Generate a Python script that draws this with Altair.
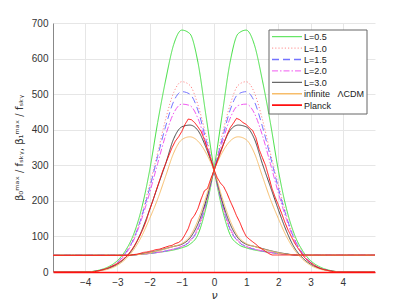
import altair as alt
import pandas as pd

# shared nu grid for theory curves
nu = [-5, -4.5, -4, -3.75, -3.5, -3.25, -3, -2.75, -2.5, -2.25, -2, -1.75, -1.5, -1.25, -1, -0.75, -0.5, -0.25,
      0, 0.25, 0.5, 0.75, 1, 1.25, 1.5, 1.75, 2, 2.25, 2.5, 2.75, 3, 3.25, 3.5, 3.75, 4, 4.5, 5]

# beta_1 (right lobe) per model
b1_L05 = [47, 47, 47, 47, 47, 47, 47, 47, 48, 50, 52, 55, 58, 62, 68, 78, 105, 180,
          290, 440, 590, 670, 680, 640, 540, 420, 285, 178, 105, 60, 32, 16, 7, 2, 0, 0, 0]
b1_L10 = [47, 47, 47, 47, 47, 47, 47, 47, 48, 50, 52, 55, 59, 64, 71, 85, 118, 190,
          287, 385, 470, 525, 535, 505, 430, 335, 245, 160, 95, 55, 28, 13, 5, 1.5, 0, 0, 0]
b1_L15 = [47, 47, 47, 47, 47, 47, 47, 47, 48, 50, 52, 55, 59, 64, 71, 86, 120, 192,
          286, 372, 455, 500, 507, 480, 410, 325, 235, 155, 92, 53, 27, 12, 5, 1.5, 0, 0, 0]
b1_L20 = [47, 47, 47, 47, 47, 47, 47, 47, 48, 50, 52, 55, 59, 65, 72, 88, 124, 195,
          286, 362, 432, 468, 472, 447, 385, 305, 222, 148, 88, 50, 26, 12, 5, 1.5, 0, 0, 0]
b1_L30 = [47, 47, 47, 47, 47, 47, 47, 47, 48, 51, 55, 60, 66, 72, 78, 95, 135, 200,
          285, 350, 398, 413, 408, 375, 305, 240, 175, 115, 68, 40, 22, 11, 5, 1.5, 0, 0, 0]
b1_inf = [47, 47, 47, 47, 47, 47, 47, 47, 48, 50, 54, 59, 65, 72, 80, 100, 145, 210,
          285, 335, 368, 380, 372, 335, 270, 205, 150, 100, 62, 36, 19, 9, 4, 1, 0, 0, 0]

# beta_0 (left lobe) per model
b0_L05 = [0, 0, 0, 2, 7, 16, 32, 60, 105, 178, 285, 420, 540, 640, 680, 670, 590, 440,
          290, 180, 105, 78, 68, 62, 58, 55, 52, 50, 48, 47, 47, 47, 47, 47, 47, 47, 47]
b0_L10 = [0, 0, 0, 1.5, 5, 13, 28, 55, 95, 160, 245, 335, 430, 505, 535, 525, 470, 385,
          287, 190, 118, 85, 71, 64, 59, 55, 52, 50, 48, 47, 47, 47, 47, 47, 47, 47, 47]
b0_L15 = [0, 0, 0, 1.5, 5, 12, 27, 53, 92, 155, 235, 325, 410, 480, 507, 500, 455, 372,
          286, 192, 120, 86, 71, 64, 59, 55, 52, 50, 48, 47, 47, 47, 47, 47, 47, 47, 47]
b0_L20 = [0, 0, 0, 1.5, 5, 12, 26, 50, 88, 148, 222, 305, 385, 447, 472, 468, 432, 362,
          286, 195, 124, 88, 72, 65, 59, 55, 52, 50, 48, 47, 47, 47, 47, 47, 47, 47, 47]
b0_L30 = [0, 0, 0, 1.5, 5, 11, 22, 40, 68, 115, 175, 240, 305, 375, 408, 413, 398, 350,
          285, 200, 135, 95, 78, 72, 66, 60, 55, 51, 48, 47, 47, 47, 47, 47, 47, 47, 47]
b0_inf = [0, 0, 0, 1, 4, 9, 19, 36, 62, 100, 150, 205, 270, 335, 372, 380, 368, 335,
          285, 210, 145, 100, 80, 72, 65, 59, 54, 50, 48, 47, 47, 47, 47, 47, 47, 47, 47]

# Planck (noisy measurement)
nu_pl_b1 = [-5, -2.6, -2.5, -2.4, -2.3, -2.2, -2.1, -2.0, -1.9, -1.8, -1.7, -1.6, -1.5, -1.4, -1.3, -1.2, -1.1,
            -1.0, -0.9, -0.8, -0.7, -0.6, -0.5, -0.4, -0.3, -0.2, -0.1, 0.0, 0.1, 0.2, 0.3, 0.4, 0.5, 0.6,
            0.7, 0.8, 0.9, 1.0, 1.1, 1.2, 1.3, 1.4, 1.5, 1.6, 1.7, 1.8, 1.9, 2.0, 2.1, 2.2, 2.3, 2.4, 2.5,
            2.6, 2.7, 2.8, 2.9, 3.0, 3.1, 3.2, 3.3, 3.4, 3.5, 3.6, 3.7, 3.8, 5]
pl_b1 = [47, 47, 49, 50, 52, 55, 56, 58, 60, 63, 64, 67, 70, 73, 75, 80, 83,
         90, 105, 122, 148, 160, 178, 205, 228, 235, 262, 285, 310, 335, 360, 385, 405, 418,
         432, 428, 420, 415, 405, 398, 378, 345, 322, 300, 268, 235, 210, 188, 165, 140, 118, 100, 82,
         68, 55, 42, 33, 26, 20, 14, 10, 7, 5, 3, 1, 0, 0]
nu_pl_b0 = [-5, -3.8, -3.7, -3.6, -3.5, -3.4, -3.3, -3.2, -3.1, -3.0, -2.9, -2.8, -2.7, -2.6, -2.5, -2.4, -2.3,
            -2.2, -2.1, -2.0, -1.9, -1.8, -1.7, -1.6, -1.5, -1.4, -1.3, -1.2, -1.1, -1.0, -0.9, -0.8, -0.7,
            -0.6, -0.5, -0.4, -0.3, -0.2, -0.1, 0.0, 0.1, 0.2, 0.3, 0.4, 0.5, 0.6, 0.7, 0.8, 0.9, 1.0, 1.1,
            1.2, 1.3, 1.4, 1.5, 1.6, 1.7, 1.8]
pl_b0 = [0, 0, 1, 3, 5, 8, 11, 15, 19, 24, 30, 37, 46, 57, 70, 85, 102,
         122, 145, 175, 200, 228, 255, 282, 305, 328, 350, 368, 380, 395, 415, 430, 428,
         420, 408, 395, 372, 345, 318, 288, 265, 250, 240, 222, 200, 180, 158, 140, 118, 100, 92,
         85, 78, 70, 64, 58, 52, 48]
# flat high-threshold tail of Planck beta_0 (drawn fainter)
nu_pl_b0_tail = [1.8, 5]
pl_b0_tail = [48, 48]

series_names = ["L=0.5", "L=1.0", "L=1.5", "L=2.0", "L=3.0", "infinite\u00a0\u00a0\u00a0\u039bCDM", "Planck"]
colors = ["#44e044", "#ff8c8c", "#7373ff", "#f05af0", "#444444", "#f7bd6a", "#ff1010"]
dashes = [[1, 0], [1.2, 2], [7, 4], [6, 2, 1.5, 2], [1, 0], [1, 0], [1, 0]]
widths = [1, 1, 1.5, 1, 1, 1.4, 1.6]
x_ticks = [-4, -3, -2, -1, 0, 1, 2, 3, 4]
y_ticks = [0, 100, 200, 300, 400, 500, 600, 700]

rows = []
theory = [(b0_L05, b1_L05), (b0_L10, b1_L10), (b0_L15, b1_L15), (b0_L20, b1_L20), (b0_L30, b1_L30), (b0_inf, b1_inf)]
for name, (b0, b1) in zip(series_names[:6], theory):
    for n, v in zip(nu, b0):
        rows.append({"nu": n, "v": v, "series": name, "lobe": "b0"})
    for n, v in zip(nu, b1):
        rows.append({"nu": n, "v": v, "series": name, "lobe": "b1"})
df_theory = pd.DataFrame(rows)
rows = []
for n, v in zip(nu_pl_b0, pl_b0):
    rows.append({"nu": n, "v": v, "series": "Planck", "lobe": "b0"})
for n, v in zip(nu_pl_b1, pl_b1):
    rows.append({"nu": n, "v": v, "series": "Planck", "lobe": "b1"})
df_pl = pd.DataFrame(rows)
df_tail = pd.DataFrame({"nu": nu_pl_b0_tail, "v": pl_b0_tail, "series": "Planck"})

color = alt.Color("series:N", scale=alt.Scale(domain=series_names, range=colors), legend=None)
dash = alt.StrokeDash("series:N", scale=alt.Scale(domain=series_names, range=dashes), legend=None)
width_enc = alt.StrokeWidth("series:N", scale=alt.Scale(domain=series_names, range=widths), legend=None)

x = alt.X("nu:Q", scale=alt.Scale(domain=[-5, 5], nice=False),
          axis=alt.Axis(values=x_ticks, title="\u03bd", titleFontStyle="italic", titleFontWeight="normal",
                        titleFontSize=11, labelFontSize=10, grid=True, ticks=False, labelPadding=5,
                        domainColor="#ff1010", domainWidth=1.5, titlePadding=2))
y = alt.Y("v:Q", scale=alt.Scale(domain=[0, 700], nice=False),
          axis=alt.Axis(values=y_ticks,
                        title="\u03b2\u2080\u1d50\u1d43\u02e3 / f\u209b\u2096\u1d67, \u03b2\u2081\u1d50\u1d43\u02e3 / f\u209b\u2096\u1d67",
                        titleFontWeight="normal", titleFontSize=10, labelFontSize=10, grid=True,
                        ticks=False, labelPadding=5, domainColor="#888", titlePadding=7))

base_theory = alt.Chart(df_theory).mark_line(interpolate="monotone", clip=True).encode(
    x=x, y=y, color=color, strokeDash=dash, strokeWidth=width_enc, detail="lobe:N")
planck = alt.Chart(df_pl).mark_line(interpolate="linear", clip=True).encode(
    x=x, y=y, color=color, strokeDash=dash, strokeWidth=width_enc, detail="lobe:N")
planck_tail = alt.Chart(df_tail).mark_line(clip=True, opacity=0.55, strokeWidth=1.6).encode(
    x=x, y=y, color=color)

# manual legend (box, line samples, labels)
leg_x0, leg_y0, leg_w, leg_h = 216, 7, 98, 84
row_h = 11.4
legend_layers = [
    alt.Chart(pd.DataFrame({"a": [0]})).mark_rect(fill="white", stroke="#666", strokeWidth=1).encode(
        x=alt.value(leg_x0), x2=alt.value(leg_x0 + leg_w), y=alt.value(leg_y0), y2=alt.value(leg_y0 + leg_h))
]
for i, (name, c, d, w) in enumerate(zip(series_names, colors, dashes, widths)):
    yy = leg_y0 + 6.7 + i * row_h
    legend_layers.append(
        alt.Chart(pd.DataFrame({"a": [0]})).mark_rule(color=c, strokeDash=d, strokeWidth=w).encode(
            x=alt.value(leg_x0 + 3), x2=alt.value(leg_x0 + 33), y=alt.value(yy)))
    legend_layers.append(
        alt.Chart(pd.DataFrame({"t": [name]})).mark_text(align="left", baseline="middle", fontSize=9,
                                                         font="Liberation Sans", color="#222").encode(
            x=alt.value(leg_x0 + 35), y=alt.value(yy + 0.5), text="t:N"))

chart = alt.layer(base_theory, planck_tail, planck, *legend_layers).properties(
    width=322, height=249, autosize=alt.AutoSizeParams(type="none"),
    padding={"left": 45, "top": 15, "right": 30, "bottom": 32}
).configure_view(stroke=None).configure_axis(
    gridColor="#e6e6e6", labelColor="#333", titleColor="#333", labelFont="Liberation Sans",
    titleFont="DejaVu Sans")

chart.save("out.html", embed_options={"renderer": "svg", "actions": False})
